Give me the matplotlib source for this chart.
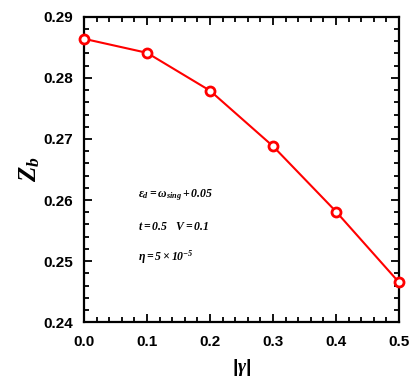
import matplotlib
matplotlib.use('Agg')
import matplotlib.pyplot as plt
from matplotlib.ticker import MultipleLocator

gamma = [0.0, 0.1, 0.2, 0.3, 0.4, 0.5]
zb = [0.2864, 0.2841, 0.2779, 0.2688, 0.2581, 0.2465]

plt.rcParams['font.family'] = 'Liberation Sans'
plt.rcParams['font.weight'] = 'bold'
plt.rcParams['mathtext.fontset'] = 'custom'
plt.rcParams['mathtext.it'] = 'Liberation Serif:italic:bold'
plt.rcParams['mathtext.rm'] = 'Liberation Serif:italic:bold'
plt.rcParams['mathtext.bf'] = 'Liberation Serif:italic:bold'
plt.rcParams['xtick.major.pad'] = 9
plt.rcParams['ytick.major.pad'] = 8

fig = plt.figure(figsize=(4.14, 3.91), dpi=100)
ax = fig.add_axes([0.203, 0.176, 0.761, 0.781])

ax.plot(gamma, zb, color='red', lw=1.5, marker='o', ms=6.5, mfc='white',
        mec='red', mew=2, clip_on=False, zorder=3)

ax.set_xlim(0, 0.5)
ax.set_ylim(0.24, 0.29)
ax.xaxis.set_major_locator(MultipleLocator(0.1))
ax.xaxis.set_minor_locator(MultipleLocator(0.02))
ax.yaxis.set_major_locator(MultipleLocator(0.01))
ax.yaxis.set_minor_locator(MultipleLocator(0.002))
ax.tick_params(which='both', direction='in', top=True, right=True, width=1.3)
ax.tick_params(which='major', length=6)
ax.tick_params(which='minor', length=3.5)
ax.set_xticklabels([f'{v:.1f}' for v in ax.get_xticks()], fontweight='bold', fontsize=11)
ax.set_yticklabels([f'{v:.2f}' for v in ax.get_yticks()], fontweight='bold', fontsize=11)
for s in ax.spines.values():
    s.set_linewidth(1.6)

ax.set_xlabel(r'|$\gamma$|', fontsize=14, fontweight='bold', labelpad=6)
ax.set_ylabel(r'$Z_b$', fontsize=18, labelpad=1)

ax.text(0.17, 0.416, r'$\varepsilon_d=\omega_{sing}+0.05$', transform=ax.transAxes,
        fontsize=8.5, va='center')
ax.text(0.17, 0.311, r'$t=0.5\quad V=0.1$', transform=ax.transAxes,
        fontsize=8.5, va='center')
ax.text(0.17, 0.213, r'$\eta=5\times10^{-5}$', transform=ax.transAxes,
        fontsize=8.5, va='center')

fig.savefig('out.png', dpi=100)
